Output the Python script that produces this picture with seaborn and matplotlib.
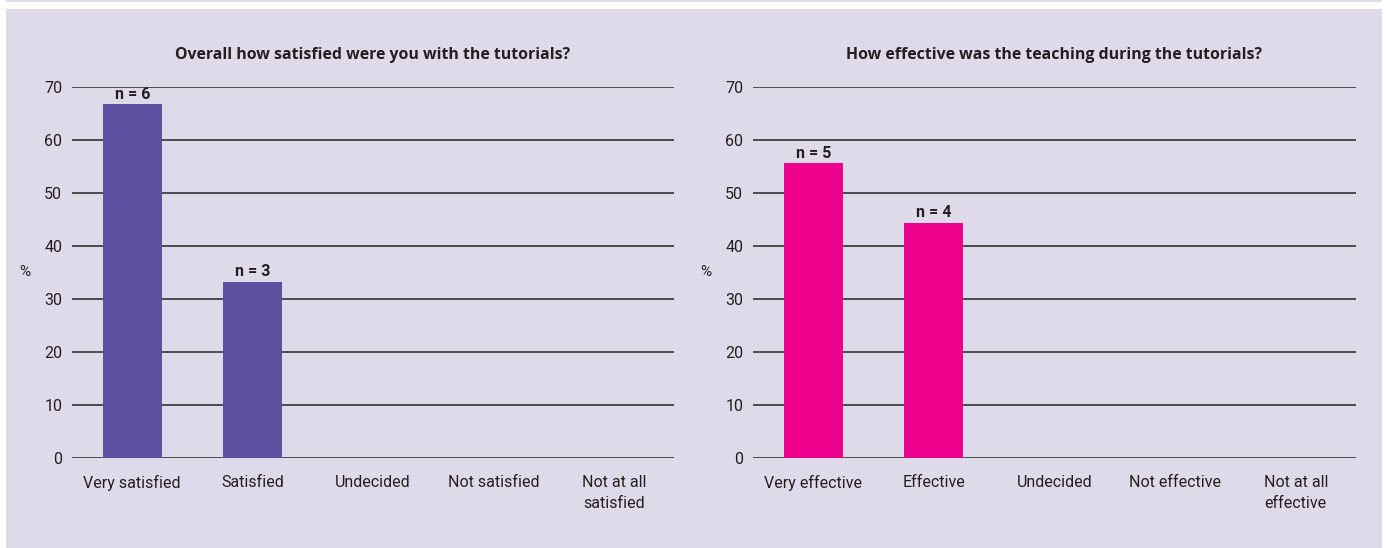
import matplotlib
matplotlib.use("Agg")
import matplotlib.pyplot as plt
import matplotlib.patches as mpatches
import seaborn as sns
import pandas as pd

# data
satisfaction_labels = ["Very satisfied", "Satisfied", "Undecided", "Not satisfied", "Not at all\nsatisfied"]
satisfaction_pct = [66.7, 33.3, 0, 0, 0]
satisfaction_n = [6, 3, 0, 0, 0]

teaching_labels = ["Very effective", "Effective", "Undecided", "Not effective", "Not at all\neffective"]
teaching_pct = [55.6, 44.4, 0, 0, 0]
teaching_n = [5, 4, 0, 0, 0]

TITLES = ["Overall how satisfied were you with the tutorials?",
          "How effective was the teaching during the tutorials?"]
COLORS = ["#5F4FA0", "#EC008C"]
BG = "#DEDAEA"
TXT = "#231f20"

sns.set_style("white")
plt.rcParams["font.family"] = ["Roboto", "DejaVu Sans"]

fig = plt.figure(figsize=(13.87, 5.48), dpi=100)
fig.patch.set_facecolor("white")
W, H = 1387, 548
# background panel + thin strip at the top
fig.patches.append(mpatches.Rectangle((6 / W, 0), 1376 / W, 539 / H, transform=fig.transFigure,
                                      facecolor=BG, edgecolor="none", zorder=-5))
fig.patches.append(mpatches.Rectangle((6 / W, 546 / H), 1376 / W, 2 / H, transform=fig.transFigure,
                                      facecolor=BG, edgecolor="none", zorder=-5))

axes_pos = [[72 / W, 90 / H, 602 / W, 371 / H], [753 / W, 90 / H, 603 / W, 371 / H]]
panels = [(satisfaction_labels, satisfaction_pct, satisfaction_n),
          (teaching_labels, teaching_pct, teaching_n)]

for i, (labels, pct, ns) in enumerate(panels):
    ax = fig.add_axes(axes_pos[i], zorder=2)
    ax.set_facecolor("none")
    df = pd.DataFrame({"cat": labels, "pct": pct})
    sns.barplot(data=df, x="cat", y="pct", color=COLORS[i], width=0.49,
                saturation=1, linewidth=0, ax=ax, zorder=3)
    ax.set_xlim(-0.5, 4.5)
    ax.set_ylim(0, 70)
    ax.set_yticks(range(0, 71, 10))
    ax.grid(axis="y", color="#333333", linewidth=1.2, zorder=1)
    ax.grid(axis="x", visible=False)
    ax.set_axisbelow(True)
    for s in ax.spines.values():
        s.set_visible(False)
    ax.tick_params(axis="y", length=0, pad=7, labelsize=11.5, colors=TXT)
    ax.tick_params(axis="x", length=0, pad=12, labelsize=11.5, colors=TXT)
    for lab in ax.get_xticklabels():
        lab.set_linespacing(1.55)
    ax.set_xlabel("")
    ax.set_ylabel("")
    ax.text(-47 / (axes_pos[i][2] * W), 0.5, "%", transform=ax.transAxes, ha="center", va="center",
            fontsize=11, color=TXT)
    for j, (v, n) in enumerate(zip(pct, ns)):
        if n > 0:
            ax.text(j, v + 0.5, f"n = {n}", ha="center", va="bottom", fontsize=11.5,
                    fontweight="bold", color=TXT, zorder=4)
    ax.set_title(TITLES[i], fontsize=11.4, fontweight="bold", color=TXT, pad=20,
                 family=["Open Sans", "DejaVu Sans"])

fig.savefig("out.png", dpi=100, facecolor=fig.get_facecolor())
